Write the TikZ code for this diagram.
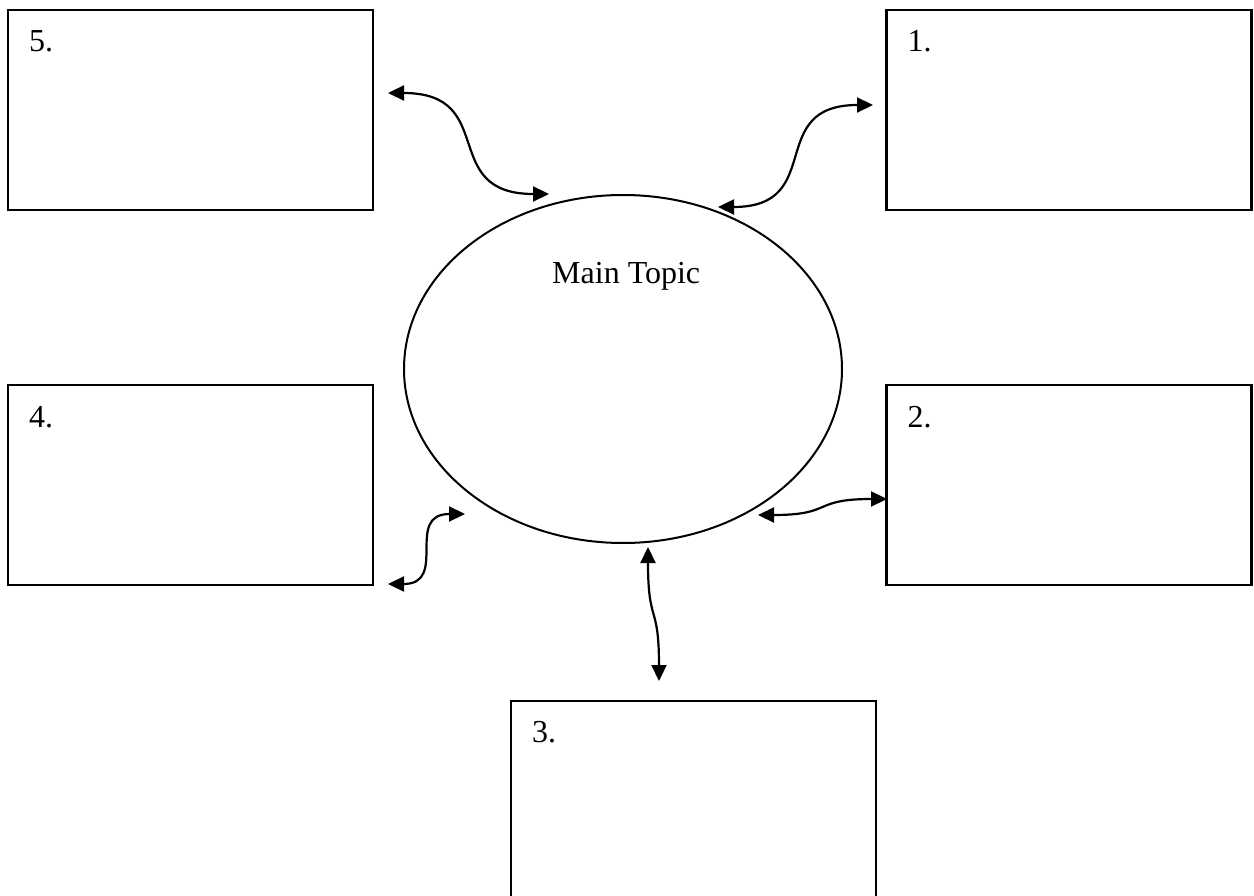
\documentclass[tikz,border=0pt]{standalone}
\usepackage{fontspec}
\setmainfont{Liberation Serif}
\usetikzlibrary{arrows.meta,shapes.geometric,calc}
\begin{document}
\begin{tikzpicture}[x=1pt,y=-1pt,
  box/.style={draw,line width=2.4pt,rectangle,minimum width=365pt,minimum height=200pt,inner sep=0pt,outer sep=0pt},
  lbl/.style={anchor=base west,inner sep=0pt,font=\fontsize{32}{36}\selectfont},
  link/.style={line width=2.2pt,looseness=1.5,{Triangle[length=16pt,width=15pt]}-{Triangle[length=16pt,width=15pt]}}]
\useasboundingbox (0,0) rectangle (1254,896);
\clip (0,0) rectangle (1254,896);
% boxes
\node[box] (b5) at (190.5,110) {};
\node[box] (b1) at (1069,110) {};
\node[box] (b4) at (190.5,485) {};
\node[box] (b2) at (1069,485) {};
\node[box,minimum height=210pt] (b3) at (693.5,806) {};
% labels
\node[lbl] (l5) at ($(b5.north west)+(21,42)$) {5.};
\node[lbl] (l1) at ($(b1.north west)+(21,42)$) {1.};
\node[lbl] (l4) at ($(b4.north west)+(21,42)$) {4.};
\node[lbl] (l2) at ($(b2.north west)+(21,42)$) {2.};
\node[lbl] (l3) at ($(b3.north west)+(21,41)$) {3.};
% ellipse
\node[draw,ellipse,line width=2pt,minimum width=438pt,minimum height=348pt,inner sep=0pt] (main) at (623,369) {};
\node[lbl] (mt) at (552,284) {Main Topic};
% connector end points
\coordinate (e5a) at (388,93);
\coordinate (e5b) at (549,194);
\coordinate (e1a) at (718,207);
\coordinate (e1b) at (873,105);
\coordinate (e2a) at (758,515);
\coordinate (e2b) at (887,499);
\coordinate (e4a) at (388,584);
\coordinate (e4b) at (465,514);
\coordinate (e3a) at (648,547);
\coordinate (e3b) at (659,681);
% connectors
\draw[link] (e5a) to[out=0,in=180] (e5b);
\draw[link] (e1a) to[out=0,in=180] (e1b);
\draw[link] (e2a) to[out=0,in=180] (e2b);
\draw[link] (e4a) to[out=0,in=180] (e4b);
\draw[link] (e3a) to[out=-90,in=90] (e3b);
\end{tikzpicture}
\end{document}
